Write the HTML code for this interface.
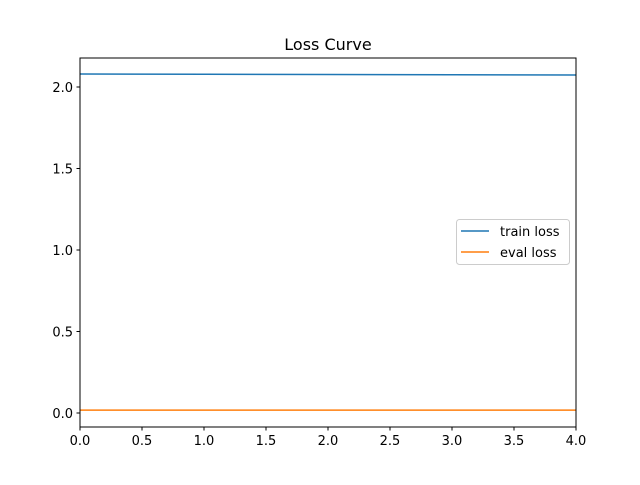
<!DOCTYPE html>
<html><head><meta charset="utf-8"><style>
body{margin:0;background:#fff;}
svg{font-family:"DejaVu Sans","Liberation Sans",sans-serif;}
</style></head><body>
<svg id="chart" width="640" height="480">
<rect width="640" height="480" fill="#fff"/>
<text x="328" y="50" font-size="16" text-anchor="middle">Loss Curve</text>
<g id="ticks"></g>
<g id="lines"></g>
<rect x="80" y="58" width="496" height="369" fill="none" stroke="#000" stroke-width="1"/>
<g>
<rect x="456.5" y="219.5" width="113" height="45" rx="3" fill="#fff" stroke="#ccc"/>
<line x1="461" y1="231" x2="489" y2="231" stroke="#1f77b4" stroke-width="1.5"/>
<text x="500" y="236" font-size="13">train loss</text>
<line x1="461" y1="252" x2="489" y2="252" stroke="#ff7f0e" stroke-width="1.5"/>
<text x="500" y="257" font-size="13">eval loss</text>
</g>
</svg>
<script>
const epochs=[0,1,2,3,4];
const trainLoss=[2.080,2.078,2.077,2.075,2.074];
const evalLoss=[0.018,0.018,0.018,0.018,0.018];
const xTicks=[0,0.5,1,1.5,2,2.5,3,3.5,4];
const yTicks=[0,0.5,1,1.5,2];
const xs=v=>80+v*124;
const ys=v=>413-v*163;
const NS="http://www.w3.org/2000/svg";
const tg=document.getElementById('ticks');
xTicks.forEach(t=>{
 const l=document.createElementNS(NS,'line');
 l.setAttribute('x1',xs(t));l.setAttribute('x2',xs(t));l.setAttribute('y1',427);l.setAttribute('y2',430.5);l.setAttribute('stroke','#000');
 
 
 tg.appendChild(l);
 const tx=document.createElementNS(NS,'text');
 tx.setAttribute('x',xs(t));tx.setAttribute('y',445);tx.setAttribute('font-size','13');tx.setAttribute('text-anchor','middle');
 tx.textContent=t.toFixed(1);
 
 
 tg.appendChild(tx);
});
yTicks.forEach(t=>{
 const l=document.createElementNS(NS,'line');
 l.setAttribute('x1',76.5);l.setAttribute('x2',80);l.setAttribute('y1',ys(t));l.setAttribute('y2',ys(t));l.setAttribute('stroke','#000');
 
 
 tg.appendChild(l);
 const tx=document.createElementNS(NS,'text');
 tx.setAttribute('x',73);tx.setAttribute('y',ys(t)+5);tx.setAttribute('font-size','13');tx.setAttribute('text-anchor','end');
 tx.textContent=t.toFixed(1);
 
 
 tg.appendChild(tx);
});
const lg=document.getElementById('lines');
function line(vals,color,name){
 const p=document.createElementNS(NS,'polyline');
 p.setAttribute('points',epochs.map((e,i)=>xs(e)+','+ys(vals[i])).join(' '));
 p.setAttribute('fill','none');p.setAttribute('stroke',color);p.setAttribute('stroke-width','1.5');
 
 
 lg.appendChild(p);
}
line(trainLoss,'#1f77b4','train-loss-line');
line(evalLoss,'#ff7f0e','eval-loss-line');
</script>
</body></html>
